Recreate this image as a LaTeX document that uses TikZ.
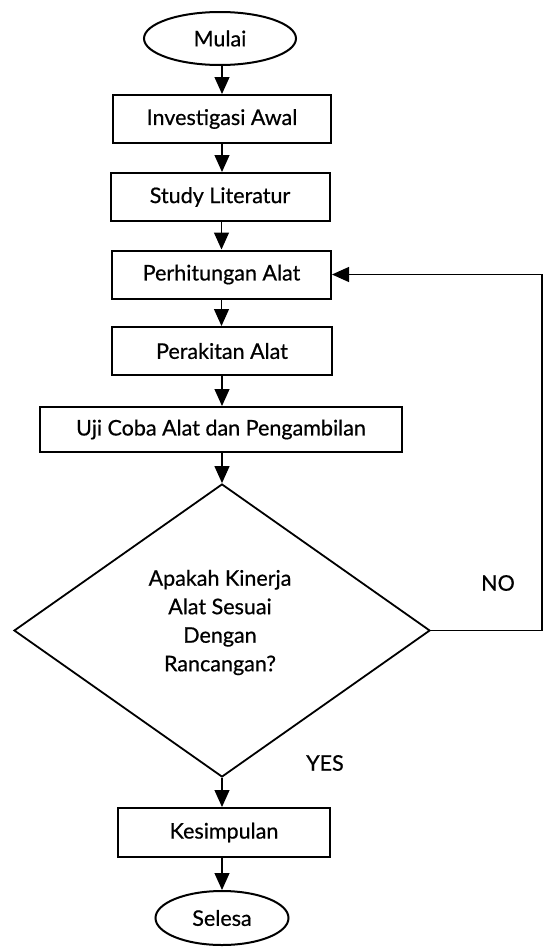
\documentclass[tikz,border=0pt]{standalone}
\usepackage{fontspec}
\setmainfont{Lato}[FakeBold=0.6]
\usetikzlibrary{shapes.geometric,arrows.meta}
\tikzset{
  base/.style={font=\fontsize{21.5bp}{28.5bp}\selectfont, align=center, inner sep=0pt},
  procbox/.style={base, draw, line width=2bp, rectangle, minimum height=48bp},
  term/.style={base, draw, line width=2bp, ellipse},
  decide/.style={draw, line width=1.8bp, diamond, aspect=1.42, inner sep=0pt, minimum width=416bp, minimum height=293bp},
  arr/.style={line width=1.2bp, -{Triangle[width=15bp,length=17bp]}},
  lbl/.style={base}
}
\begin{document}
\begin{tikzpicture}[x=1bp,y=-1bp]
\useasboundingbox (0,0) rectangle (544,948);
\node[term, minimum width=152bp, minimum height=53bp] (start) at (220,38.5) {Mulai};
\node[procbox, minimum width=218bp] (inv) at (222,119) {Investigasi Awal};
\node[procbox, minimum width=219bp] (lit) at (220,197) {Study Literatur};
\node[procbox, minimum width=219bp] (hit) at (221.5,274.5) {Perhitungan Alat};
\node[procbox, minimum width=220bp] (rak) at (222,351) {Perakitan Alat};
\node[procbox, minimum width=361bp, minimum height=45bp] (uji) at (221,429.5) {Uji Coba Alat dan Pengambilan};
\node[decide] (dec) at (222,630.5) {};
\node[base] (dectext) at (220,622.5) {Apakah Kinerja\\Alat Sesuai\\Dengan\\Rancangan?};
\node[procbox, minimum width=212bp, minimum height=49bp] (kes) at (224,832.5) {Kesimpulan};
\node[term, minimum width=133bp, minimum height=54bp] (end) at (222,918) {Selesa};
\node[lbl] (no) at (498,583) {NO};
\node[lbl] (yes) at (325,763) {YES};
\coordinate (fb) at (542,0);

\draw[arr] (start.south -| inv.north) -- (inv.north);
\draw[arr] (inv.south) -- (inv.south |- lit.north);
\draw[arr] (lit.south -| hit.north) -- (hit.north);
\draw[arr] (hit.south) -- (hit.south |- rak.north);
\draw[arr] (rak.south) -- (rak.south |- uji.north);
\draw[arr] (uji.south -| dec.north) -- (dec.north);
\draw[arr] (dec.south) -- (dec.south |- kes.north);
\draw[arr] (kes.south -| end.north) -- (end.north);
\draw[arr] (dec.east) -- (dec.east -| fb) -- (fb |- hit.east) -- (hit.east);
\end{tikzpicture}
\end{document}
